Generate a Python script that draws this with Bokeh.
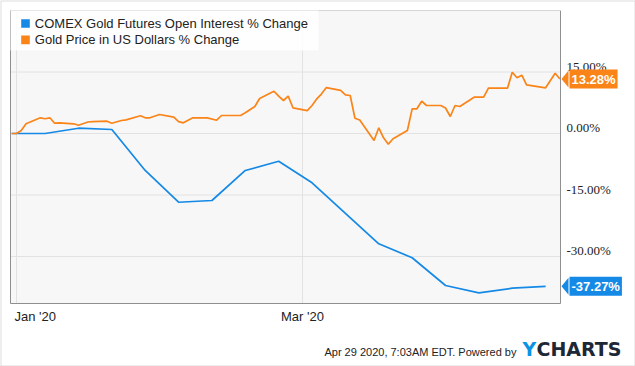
import pandas as pd
from bokeh.plotting import figure
from bokeh.models import (Range1d, BoxAnnotation, Label, LabelSet, ColumnDataSource,
                          PolyAnnotation)
from bokeh.embed import file_html
from bokeh.resources import INLINE

# ---------------- data ----------------
oi_dates = ["2019-12-31", "2020-01-07", "2020-01-14", "2020-01-21", "2020-01-28",
            "2020-02-04", "2020-02-11", "2020-02-18", "2020-02-25", "2020-03-03",
            "2020-03-10", "2020-03-17", "2020-03-24", "2020-03-31", "2020-04-07",
            "2020-04-14", "2020-04-21"]
oi_values = [0.0, 0.0, 1.29, 0.98, -9.02, -16.76, -16.34, -9.02, -6.76, -12.02,
             -19.5, -26.9, -30.3, -37.07, -38.85, -37.73, -37.27]

gold_dates = ["2019-12-31", "2020-01-01", "2020-01-02", "2020-01-03", "2020-01-06",
              "2020-01-07", "2020-01-08", "2020-01-09", "2020-01-10", "2020-01-13",
              "2020-01-14", "2020-01-16", "2020-01-17", "2020-01-20", "2020-01-21",
              "2020-01-23", "2020-01-24", "2020-01-27", "2020-01-28", "2020-01-29",
              "2020-01-31", "2020-02-03", "2020-02-04", "2020-02-05", "2020-02-07",
              "2020-02-10", "2020-02-12", "2020-02-13", "2020-02-17", "2020-02-18",
              "2020-02-20", "2020-02-21", "2020-02-24", "2020-02-25", "2020-02-26",
              "2020-02-27", "2020-02-28", "2020-03-02", "2020-03-03", "2020-03-04",
              "2020-03-05", "2020-03-06", "2020-03-09", "2020-03-10", "2020-03-11",
              "2020-03-12", "2020-03-13", "2020-03-16", "2020-03-17", "2020-03-18",
              "2020-03-19", "2020-03-20", "2020-03-23", "2020-03-24", "2020-03-25",
              "2020-03-26", "2020-03-27", "2020-03-30", "2020-03-31", "2020-04-01",
              "2020-04-02", "2020-04-03", "2020-04-06", "2020-04-08", "2020-04-09",
              "2020-04-13", "2020-04-14", "2020-04-15", "2020-04-16", "2020-04-17",
              "2020-04-21", "2020-04-23", "2020-04-24"]
gold_values = [0.0, 0.0, 0.73, 2.37, 3.83,
               3.59, 3.83, 2.51, 2.61, 2.37,
               2.02, 2.80, 2.90, 3.00, 2.51,
               3.17, 3.34, 4.32, 3.83, 3.83,
               4.63, 3.98, 2.90, 2.61, 3.83,
               3.83, 3.24, 4.39, 4.39, 5.05,
               6.59, 8.54, 10.30, 9.10, 8.05,
               9.10, 6.27, 5.60, 6.83, 8.46,
               9.68, 11.20, 10.50, 9.44, 9.27,
               3.73, 3.29, -1.71, 1.39, -1.05,
               -2.60, -1.29, 0.73, 6.02, 6.02,
               7.88, 6.83, 6.83, 6.22, 4.15,
               6.83, 6.59, 8.85, 8.85, 11.05,
               11.05, 14.95, 13.59, 14.22, 11.88,
               11.15, 14.70, 13.28]

y_ticks = [-30, -15, 0, 15]
y_tick_labels = ["-30.00%", "-15.00%", "0.00%", "15.00%"]
x_ticks = ["2020-01-01", "2020-03-01"]
x_tick_labels = ["Jan '20", "Mar '20"]
series_names = ["COMEX Gold Futures Open Interest % Change",
                "Gold Price in US Dollars % Change"]
footer_text = "Apr 29 2020, 7:03AM EDT.  Powered by"

BLUE = "#1589e6"
ORANGE = "#fa8418"
FONT = "Liberation Sans"
TXT = "#222222"

# ---------------- geometry ----------------
W, H = 635, 366
PL, PT, PW, PH = 10, 10, 550, 293          # plot area inside the canvas
DAY = 86400000.0
jan1 = pd.Timestamp("2020-01-01").value / 1e6
x_start = jan1 - 1.2587 * DAY
x_end = jan1 + 114.12 * DAY
y_start, y_end = -41.46, 30.0
ms_px = (x_end - x_start) / PW
u_px = (y_end - y_start) / PH
X0 = x_start - PL * ms_px
X1 = x_end + (W - PL - PW) * ms_px
Y1 = y_end + PT * u_px
Y0 = y_start - (H - PT - PH) * u_px


def ms(d):
    return pd.Timestamp(d).value / 1e6


p = figure(width=W, height=H, output_backend="svg", toolbar_location=None,
           x_range=Range1d(X0, X1), y_range=Range1d(Y0, Y1),
           x_axis_location=None, y_axis_location=None, min_border=0)
p.grid.visible = False
p.background_fill_color = "white"
p.border_fill_color = "white"
p.outline_line_color = None

# outer border of the chart image
p.add_layout(BoxAnnotation(fill_alpha=0, line_color="#8c8c8c", line_width=2, level="overlay"))

# plot area background
p.add_layout(BoxAnnotation(left=x_start, right=x_end, bottom=y_start, top=y_end,
                           fill_color="#f7f7f7", fill_alpha=1, line_color=None,
                           level="underlay"))

# grid lines
p.segment(x0=[x_start] * len(y_ticks), x1=[x_end] * len(y_ticks), y0=y_ticks, y1=y_ticks,
          line_color="#e2e2e2", line_width=1)
xt = [ms(d) for d in x_ticks]
p.segment(x0=xt, x1=xt, y0=[y_start] * len(xt), y1=[y_end] * len(xt),
          line_color="#e2e2e2", line_width=1)

# data lines
p.line([ms(d) for d in oi_dates], oi_values, line_color=BLUE, line_width=1.7)
p.line([ms(d) for d in gold_dates], gold_values, line_color=ORANGE, line_width=1.7)

# plot frame
p.segment(x0=[x_start, x_end, x_start, x_start], x1=[x_start, x_end, x_end, x_end],
          y0=[y_start, y_start, y_start, y_end], y1=[y_end, y_end, y_start, y_end],
          line_color=["#8f8f8f", "#8f8f8f", "#8f8f8f", "#d6d6d6"], line_width=1)

# legend box
p.add_layout(BoxAnnotation(left=x_start, right=x_start + 308 * ms_px,
                           top=y_end, bottom=y_end - 40 * u_px,
                           fill_color="white", fill_alpha=0.85, line_color=None))
for i, (name, col) in enumerate(zip(series_names, [BLUE, ORANGE])):
    top = y_end - (8.7 + 16.4 * i) * u_px
    p.add_layout(BoxAnnotation(left=x_start + 10.7 * ms_px, right=x_start + 19.3 * ms_px,
                               top=top, bottom=top - 8.6 * u_px,
                               fill_color=col, fill_alpha=1, line_color=None))
    p.add_layout(Label(x=x_start, y=y_end, x_offset=24.3, y_offset=-(13 + 16.4 * i),
                       text=name, text_font=FONT, text_font_size="13px",
                       text_color=TXT, text_baseline="middle"))

# right tick labels
src = ColumnDataSource(dict(x=[x_end] * len(y_ticks), y=y_ticks, t=y_tick_labels))
p.add_layout(LabelSet(source=src, x="x", y="y", text="t", x_offset=6, y_offset=6,
                      text_font=FONT, text_font_size="13px", text_color=TXT,
                      text_baseline="middle", text_align="left"))

# x tick labels
p.add_layout(Label(x=xt[0], y=y_start, x_offset=-2, y_offset=-13,
                   text=x_tick_labels[0], text_font=FONT, text_font_size="13px",
                   text_color=TXT, text_baseline="middle", text_align="left"))
p.add_layout(Label(x=xt[1], y=y_start, y_offset=-13,
                   text=x_tick_labels[1], text_font=FONT, text_font_size="13px",
                   text_color=TXT, text_baseline="middle", text_align="center"))

# value tags
for val, col in [(gold_values[-1], ORANGE), (oi_values[-1], BLUE)]:
    p.add_layout(PolyAnnotation(xs=[x_end + 1 * ms_px, x_end + 8 * ms_px, x_end + 8 * ms_px],
                                ys=[val, val + 8.5 * u_px, val - 8.5 * u_px],
                                fill_color=col, fill_alpha=1, line_color=None))
    p.add_layout(Label(x=x_end, y=val, x_offset=9, text="%.2f%%" % val,
                       text_font=FONT, text_font_size="13px", text_font_style="bold",
                       text_color="white", text_baseline="middle", text_align="left",
                       background_fill_color=col, background_fill_alpha=1, padding=2))

# footer
p.add_layout(Label(x=x_end, y=y_start, x_offset=-41, y_offset=-48, text=footer_text,
                   text_font=FONT, text_font_size="11px", text_color=TXT,
                   text_baseline="middle", text_align="right"))
p.add_layout(Label(x=x_end, y=y_start, x_offset=-38, y_offset=-45, text="Y",
                   text_font="DejaVu Sans", text_font_size="19px", text_font_style="bold",
                   text_color="#0a93e6", text_baseline="middle", text_align="left"))
p.add_layout(Label(x=x_end, y=y_start, x_offset=-24, y_offset=-45, text="CHARTS",
                   text_font="DejaVu Sans", text_font_size="19px", text_font_style="bold",
                   text_color="#1c2836", text_baseline="middle", text_align="left"))

open("out.html", "w").write(file_html(p, INLINE))
